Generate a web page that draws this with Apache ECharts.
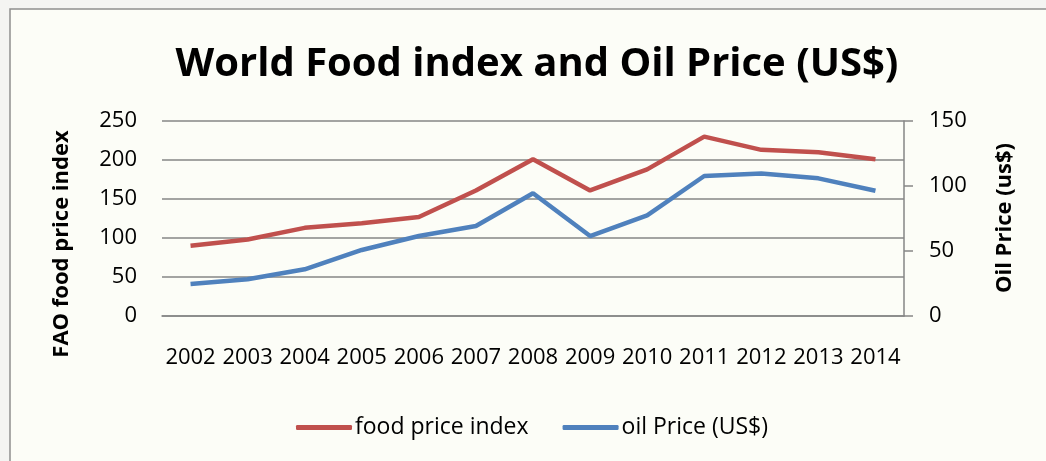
<!DOCTYPE html>
<html>
<head>
<meta charset="utf-8">
<script src="https://cdn.jsdelivr.net/npm/echarts@6/dist/echarts.min.js"></script>
<style>
html,body{margin:0;padding:0;background:#f4f4f2;}
#chart{width:1046px;height:461px;}
</style>
</head>
<body>
<div id="chart"></div>
<script>
const years = ['2002','2003','2004','2005','2006','2007','2008','2009','2010','2011','2012','2013','2014'];
const foodIndex = [90, 98, 113, 119, 127, 161, 201, 161, 188, 230, 213, 210, 201];
const oilPrice = [24.6, 28.2, 35.9, 50.8, 61.5, 69.2, 94.4, 61.5, 77.4, 107.7, 109.7, 105.9, 96.4];
const leftTicks = { min: 0, max: 250, interval: 50 };
const rightTicks = { min: 0, max: 150, interval: 50 };
const titleText = 'World Food index and Oil Price (US$)';
const leftName = 'FAO food price index';
const rightName = 'Oil Price (us$)';
const seriesNames = ['food price index', 'oil Price (US$)'];

const FONT = "'Open Sans', 'DejaVu Sans', sans-serif";
const chart = echarts.init(document.getElementById('chart'), null, { renderer: 'canvas' });
chart.setOption({
  backgroundColor: '#f4f4f2',
  animation: false,
  graphic: [
    { type: 'rect', z: -10, shape: { x: 10, y: 9, width: 1100, height: 500 },
      style: { fill: '#fcfdf7', stroke: '#8f8f8f', lineWidth: 1.5 } },
    { type: 'text', x: 62, y: 244, rotation: Math.PI / 2,
      style: { text: leftName, font: "bold 22px " + FONT, fill: '#000', textAlign: 'center', textVerticalAlign: 'middle' } },
    { type: 'text', x: 1005, y: 218, rotation: Math.PI / 2,
      style: { text: rightName, font: "bold 22px " + FONT, fill: '#000', textAlign: 'center', textVerticalAlign: 'middle' } }
  ],
  title: {
    text: titleText, left: 532, top: 40, textAlign: 'center',
    textStyle: { fontFamily: FONT, fontWeight: 'bold', fontSize: 40, color: '#000' }
  },
  legend: {
    data: seriesNames, left: 296, top: 416, padding: 0, itemWidth: 56, itemHeight: 5, itemGap: 34,
    icon: 'roundRect',
    textStyle: { fontFamily: FONT, fontSize: 23, color: '#000', padding: [0,0,0,-2] }
  },
  grid: { left: 162, right: 142, top: 121, bottom: 145 },
  xAxis: {
    type: 'category', data: years, boundaryGap: true,
    axisLine: { show: true, lineStyle: { color: '#868686', width: 1.5 } },
    axisTick: { show: false },
    axisLabel: { color: '#000', fontFamily: FONT, fontSize: 22, margin: 31, interval: 0 }
  },
  yAxis: [
    { type: 'value', min: leftTicks.min, max: leftTicks.max, interval: leftTicks.interval,
      axisLine: { show: false }, axisTick: { show: false },
      splitLine: { lineStyle: { color: '#868686', width: 1.5 } },
      axisLabel: { color: '#000', fontFamily: FONT, fontSize: 22, margin: 25 } },
    { type: 'value', min: rightTicks.min, max: rightTicks.max, interval: rightTicks.interval, position: 'right',
      axisLine: { show: true, lineStyle: { color: '#868686', width: 1.5 } },
      axisTick: { show: true, length: 9, lineStyle: { color: '#868686', width: 1.5 } },
      splitLine: { show: false },
      axisLabel: { color: '#000', fontFamily: FONT, fontSize: 22, margin: 25 } }
  ],
  series: [
    { name: seriesNames[0], type: 'line', yAxisIndex: 0, data: foodIndex, symbol: 'none',
      lineStyle: { color: '#C0504D', width: 4.5 }, itemStyle: { color: '#C0504D' } },
    { name: seriesNames[1], type: 'line', yAxisIndex: 1, data: oilPrice, symbol: 'none',
      lineStyle: { color: '#4F81BD', width: 4.5 }, itemStyle: { color: '#4F81BD' } }
  ]
});
</script>
</body>
</html>
